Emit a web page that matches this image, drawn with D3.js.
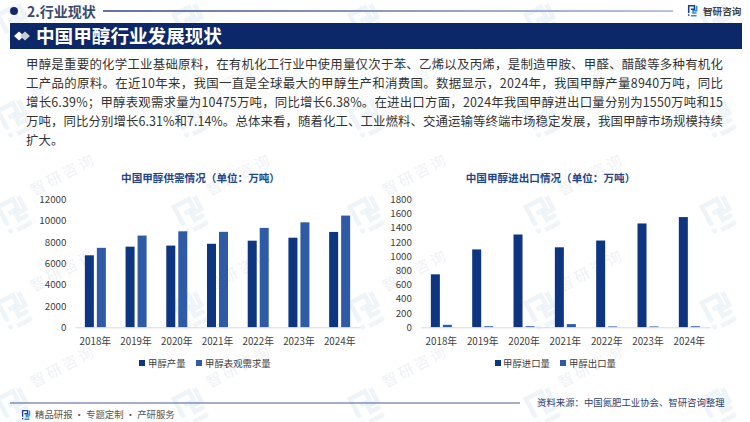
<!DOCTYPE html>
<html><head><meta charset="utf-8">
<script src="https://cdn.jsdelivr.net/npm/d3@7/dist/d3.min.js"></script>
<style>html,body{margin:0;padding:0;background:#fff}svg{display:block}text{font-family:"Noto Sans CJK SC","Noto Sans",sans-serif}</style>
</head><body><svg id="c" width="750" height="422"></svg>
<script>
const years = ["2018年","2019年","2020年","2021年","2022年","2023年","2024年"];
const production = [6750,7560,7660,7830,8120,8400,8940];
const demand = [7450,8600,9000,8950,9320,9840,10475];
const imports = [745,1095,1305,1125,1220,1460,1550];
const exportsVol = [35,15,15,45,12,12,15];
const ticksLeft = [0,2000,4000,6000,8000,10000,12000];
const ticksRight = [0,200,400,600,800,1000,1200,1400,1600,1800];
const paragraph = [
"甲醇是重要的化学工业基础原料，在有机化工行业中使用量仅次于苯、乙烯以及丙烯，是制造甲胺、甲醛、醋酸等多种有机化",
"工产品的原料。在近10年来，我国一直是全球最大的甲醇生产和消费国。数据显示，2024年，我国甲醇产量8940万吨，同比",
"增长6.39%；甲醇表观需求量为10475万吨，同比增长6.38%。在进出口方面，2024年我国甲醇进出口量分别为1550万吨和15",
"万吨，同比分别增长6.31%和7.14%。总体来看，随着化工、工业燃料、交通运输等终端市场稳定发展，我国甲醇市场规模持续",
"扩大。"];
const svg = d3.select("#c");
const defs = svg.append("defs");
const grad = defs.append("linearGradient").attr("id","hl");
grad.append("stop").attr("offset","0").attr("stop-color","#5f73a8");
grad.append("stop").attr("offset","1").attr("stop-color","#b9c3dc");

function logo(g,s,c1,c2){
  const p = g.append("g").attr("transform",`scale(${s})`).attr("fill","none").attr("stroke-width",2.2);
  p.append("path").attr("stroke",c1).attr("d","M1 11V1H9V6H4M1 15V13");
  p.append("path").attr("stroke",c2||c1).attr("d","M12 1V8H7V11H12M4 15H12");
}
// watermarks
const wm = svg.append("g");
for(let r=0;r<5;r++) for(let k=0;k<6;k++){
  const x = -162 + k*176, y = 20 + r*96;
  const g = wm.append("g").attr("transform",`translate(${x},${y})`);
  const a = g.append("g").attr("transform","rotate(-28) translate(-14,-14)");
  logo(a,2.1,"#eff4f9");
  if(r>=1 && k>=1 && k<=4){
    const t = g.append("g").attr("transform","translate(20,-16) rotate(-28)");
    t.append("text").attr("font-size",15).attr("letter-spacing",3).attr("fill","#f0f2f6").text("智研咨询");
  }
}
// header
svg.append("circle").attr("cx",14).attr("cy",11).attr("r",4).attr("fill","#14296b");
svg.append("text").attr("x",27).attr("y",16.5).attr("font-size",14).attr("font-weight",700).attr("fill","#3b4a6e").text("2.行业现状");
svg.append("rect").attr("x",103).attr("y",10).attr("width",570).attr("height",2).attr("fill","url(#hl)");
const lg = svg.append("g").attr("transform","translate(688,5)");
logo(lg,.72,"#1d3f8f","#2b8fd6");
svg.append("text").attr("x",703).attr("y",15).attr("font-size",9.6).attr("font-weight",700).attr("fill","#444").text("智研咨询");
svg.append("rect").attr("x",10).attr("y",23).attr("width",732).attr("height",26).attr("fill","#0d2868");
const dm = svg.append("g");
dm.append("path").attr("d","M14 36L19 31.5L24 36L19 40.5Z").attr("fill","#fff");
dm.append("path").attr("d","M20 36L25 31.5L30 36L25 40.5Z").attr("fill","#c8ccd4");
svg.append("text").attr("x",36).attr("y",42.5).attr("font-size",18.6).attr("font-weight",700).attr("fill","#fff").text("中国甲醇行业发展现状");
// paragraph: first four lines justified to the column width
const columnWidth = 697;
svg.append("g").selectAll("text").data(paragraph).join("text")
  .attr("x",26).attr("y",(d,i)=>69+i*19).attr("font-size",12.45).attr("fill","#333")
  .each(function(d,i){ if(i<4) d3.select(this).attr("textLength",columnWidth).attr("lengthAdjust","spacing"); })
  .text(d=>d);

function chart(o){
  const x = d3.scaleBand().domain(years).range(o.xr);
  const y = d3.scaleLinear().domain(o.dom).range([327.3,199.3]);
  const inner = d3.scaleBand().domain([0,1]).range([0,21]).paddingInner(0.25);
  const off = (x.bandwidth()-21)/2;
  const g = svg.append("g");
  [o.a,o.b].forEach((vals,si)=>{
    g.append("g").selectAll("rect").data(vals).join("rect")
      .attr("x",(d,i)=>x(years[i])+off+inner(si))
      .attr("width",inner.bandwidth())
      .attr("y",d=>y(d)).attr("height",d=>y(0)-y(d))
      .attr("fill",o.colors[si]);
  });
  const ax = g.append("g").attr("transform","translate(0,327.3)").call(d3.axisBottom(x).tickSize(0).tickPadding(10.5));
  ax.select(".domain").attr("stroke","#d9d9d9");
  ax.selectAll("text").attr("font-size",9.8).attr("fill","#404040").attr("font-family",'"Noto Sans CJK SC"');
  const ay = g.append("g").attr("transform",`translate(${o.yx},0)`).call(d3.axisLeft(y).tickValues(o.ticks).tickFormat(d3.format("d")).tickSize(0).tickPadding(0));
  ay.select(".domain").remove();
  ay.selectAll("text").attr("font-size",9.8).attr("fill","#404040").attr("font-family",'"Noto Sans CJK SC"');
  g.append("text").attr("x",o.tx).attr("y",182).attr("text-anchor","middle").attr("font-size",10.6).attr("font-weight",700).attr("fill","#1f4788").text(o.title);
  o.legend.forEach((l,i)=>{
    g.append("rect").attr("x",l.m).attr("y",360).attr("width",6).attr("height",6).attr("fill",o.colors[i]);
    g.append("text").attr("x",l.t).attr("y",366.5).attr("font-size",9.4).attr("fill","#404040").text(l.s);
  });
}
chart({xr:[75,360],dom:[0,12000],ticks:ticksLeft,a:production,b:demand,colors:["#0d3580","#2e5aa6"],yx:66.5,tx:200.5,
  title:"中国甲醇供需情况（单位：万吨）",
  legend:[{m:139,t:148,s:"甲醇产量"},{m:196,t:205,s:"甲醇表观需求量"}]});
chart({xr:[420.7,710],dom:[0,1800],ticks:ticksRight,a:imports,b:exportsVol,colors:["#0d3580","#2e5aa6"],yx:412,tx:550.5,
  title:"中国甲醇进出口情况（单位：万吨）",
  legend:[{m:495,t:503,s:"甲醇进口量"},{m:560,t:569,s:"甲醇出口量"}]});
// footer
svg.append("rect").attr("x",10).attr("y",402.5).attr("width",510).attr("height",1).attr("fill","#4a5f99");
const fl = svg.append("g").attr("transform","translate(22,410)");
logo(fl,.62,"#1d3f8f","#2b8fd6");
svg.append("text").attr("x",35).attr("y",418).attr("font-size",9.4).attr("fill","#555").text("精品研报 · 专题定制 · 产研服务");
svg.append("text").attr("x",537).attr("y",405.5).attr("font-size",9.4).attr("fill","#2f3f70").text("资料来源：中国氮肥工业协会、智研咨询整理");
</script></body></html>
